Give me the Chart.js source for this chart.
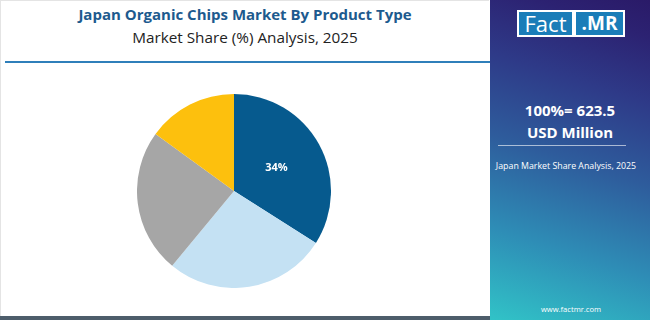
<!DOCTYPE html>
<html>
<head>
<meta charset="utf-8">
<script src="https://cdn.jsdelivr.net/npm/chart.js@4"></script>
<style>
  html, body { margin:0; padding:0; width:650px; height:320px; overflow:hidden; background:#fff; }
  #left { position:absolute; left:0; top:0; width:489px; height:316px; border-top:1px solid #e4e4e4; border-left:1px solid #e4e4e4; box-sizing:border-box; background:#fff; }
  #title { position:absolute; left:0; width:490px; top:4px; text-align:center; font-family:"Open Sans", sans-serif; font-weight:700; font-size:15px; color:#1d5a8e; }
  #sub { position:absolute; left:0; width:490px; top:27px; text-align:center; font-family:"Open Sans", sans-serif; font-size:15.3px; color:#222; }
  #hline { position:absolute; left:5px; width:485px; top:61px; height:2px; background:#2f7fba; }
  #bline { position:absolute; left:0; width:490px; top:316px; height:4px; background:#4d5d6b; }
  #right { position:absolute; left:490px; top:0; width:160px; height:320px;
    background: linear-gradient(18deg, #31c3c7 0%, #2e8db6 25%, #2e5c9c 50%, #2e3a88 72%, #2c2272 90%, #2a1a68 100%); }
  #logo { position:absolute; left:27px; top:10px; width:108px; height:27px; background:#fff; }
  #fact { position:absolute; left:2px; top:2px; width:53px; height:23px; background:#1a7db8; color:#fff; font-family:"Open Sans", sans-serif; font-size:22px; line-height:23px; text-align:center; }
  #mr { position:absolute; left:59px; top:2px; width:47px; height:23px; background:#1a7db8; color:#fff; font-family:"Open Sans", sans-serif; font-weight:700; font-size:19px; line-height:23px; text-align:center; }
  .rt { position:absolute; left:0; width:160px; text-align:center; color:#fff; font-family:"Open Sans", sans-serif; }
  #tot { top:100px; font-size:15px; font-weight:700; }
  #usd { top:122px; font-size:15px; font-weight:700; }
  #rline { position:absolute; left:8px; width:128px; top:145px; height:1px; background:rgba(255,255,255,0.6); }
  #jp { left:-4px; top:160px; font-size:8.8px; }
  #www { left:1px; top:304px; font-size:7.6px; }
  #cwrap { position:absolute; left:137px; top:94px; width:194px; height:194px; }
</style>
</head>
<body>
<div id="left"></div>
<div id="title">Japan Organic Chips Market By Product Type</div>
<div id="sub">Market Share (%) Analysis, 2025</div>
<div id="hline"></div>
<div id="bline"></div>
<div id="cwrap"><canvas id="c" width="194" height="194"></canvas></div>
<div id="right">
  <div id="logo"><div id="fact">Fact</div><div id="mr">.MR</div></div>
  <div class="rt" id="tot">100%= 623.5</div>
  <div class="rt" id="usd">USD Million</div>
  <div id="rline"></div>
  <div class="rt" id="jp">Japan Market Share Analysis, 2025</div>
  <div class="rt" id="www">www.factmr.com</div>
</div>
<script>
const categories = ["Potato Chips", "Vegetable Chips", "Fruit Chips", "Others"];
const shares = [34, 27, 24, 15];
const colors = ["#065a8e", "#c4e1f3", "#a6a6a6", "#fdc00d"];
const shownLabels = ["34%", "", "", ""];

const labelPlugin = {
  id: "sliceLabels",
  afterDatasetsDraw(chart) {
    const ctx = chart.ctx;
    const meta = chart.getDatasetMeta(0);
    ctx.save();
    ctx.font = "bold 11px 'Open Sans', sans-serif";
    ctx.fillStyle = "#ffffff";
    ctx.textAlign = "center";
    ctx.textBaseline = "middle";
    meta.data.forEach((arc, i) => {
      if (!shownLabels[i]) return;
      const p = arc.tooltipPosition();
      ctx.fillText(shownLabels[i], p.x, p.y);
    });
    ctx.restore();
  }
};

new Chart(document.getElementById("c"), {
  type: "pie",
  data: {
    labels: categories,
    datasets: [{ data: shares, backgroundColor: colors, borderWidth: 0 }]
  },
  options: {
    responsive: false,
    animation: false,
    layout: { padding: 0 },
    plugins: { legend: { display: false }, tooltip: { enabled: false } }
  },
  plugins: [labelPlugin]
});
</script>
</body>
</html>
